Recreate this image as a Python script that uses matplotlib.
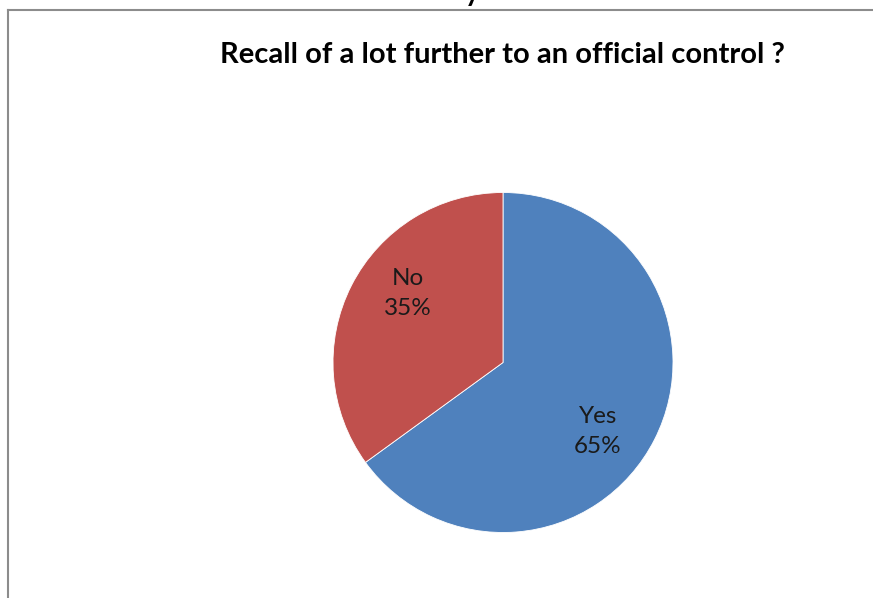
import numpy as np
import matplotlib.pyplot as plt
from matplotlib.lines import Line2D

# Данные
labels = ['Yes', 'No']
shares = [65, 35]
colors = ['#4F81BD', '#C0504D']
title = 'Recall of a lot further to an official control ?'

plt.rcParams['font.family'] = ['Lato', 'DejaVu Sans']

fig = plt.figure(figsize=(8.73, 5.98), dpi=100)
W, H = 873, 598

# рамка области диаграммы (обрезана снизу и справа)
fig.add_artist(Line2D([8 / W, 1], [1 - 10 / H, 1 - 10 / H], color='#8c8c8c', lw=1.5))
fig.add_artist(Line2D([8 / W, 8 / W], [0, 1 - 10 / H], color='#8c8c8c', lw=1.5))
# хвостик буквы от текста сверху
fig.text(472 / W, 1 - 0.5 / H, 'y', fontsize=20, fontweight='bold', ha='center', va='baseline')

fig.text(502 / W, 1 - 55 / H, title, fontsize=21, fontweight='bold', ha='center', va='center')

ax = fig.add_axes([333 / W, 65 / H, 340 / W, 341 / H])
wedges, texts = ax.pie(shares, colors=colors, startangle=90, counterclock=False,
                       labels=[f'{l}\n{s}%' for l, s in zip(labels, shares)],
                       labeldistance=0.69, radius=1.0,
                       wedgeprops=dict(linewidth=0.6, edgecolor='white'),
                       textprops=dict(fontsize=17.5, color='#1a1a1a', linespacing=1.55))

# Excel сдвигает подписи немного по часовой стрелке от середины сектора
for w, t in zip(wedges, texts):
    mid = np.deg2rad((w.theta1 + w.theta2) / 2 - 9)
    t.set_position((0.69 * np.cos(mid), 0.69 * np.sin(mid)))
    t.set_ha('center')
    t.set_va('center')

ax.set_xlim(-1, 1)
ax.set_ylim(-1, 1)
ax.set_aspect('equal')
ax.axis('off')

fig.savefig('out.png', dpi=100)
